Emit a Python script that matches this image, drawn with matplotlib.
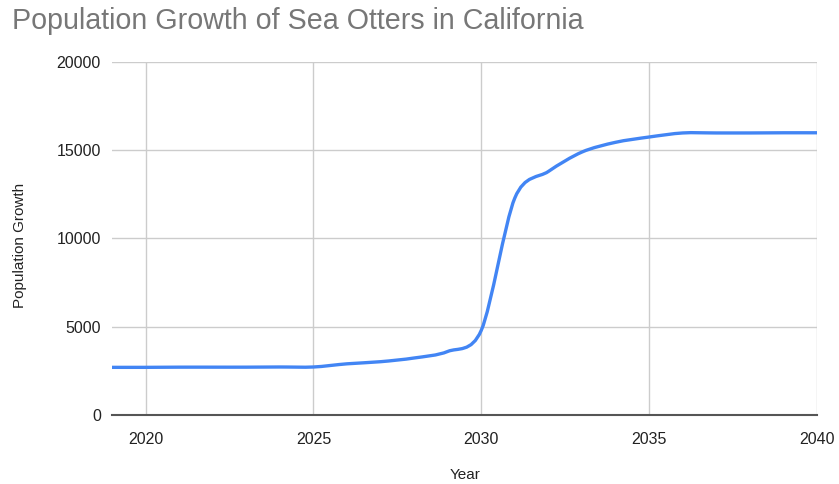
import matplotlib.pyplot as plt
import numpy as np
from matplotlib.path import Path
from matplotlib.patches import PathPatch

plt.rcParams["font.family"] = ["Liberation Sans", "DejaVu Sans"]

# yearly values
years = [2019, 2020, 2021, 2022, 2023, 2024, 2025, 2026, 2027, 2028, 2029,
         2030, 2031, 2032, 2033, 2034, 2035, 2036, 2037, 2038, 2039, 2040]
population = [2700, 2700, 2710, 2710, 2710, 2720, 2720, 2900, 3020, 3230, 3600,
              4800, 12300, 13800, 14900, 15450, 15750, 15980, 15980, 15980, 15990, 15990]

x_ticks = [2020, 2025, 2030, 2035, 2040]
y_ticks = [0, 5000, 10000, 15000, 20000]

line_color = "#4285f4"


def smooth_path(xs, ys, tension=0.45):
    # catmull-rom -> cubic bezier so matplotlib draws a smooth curve through the points
    xs = np.asarray(xs, float)
    ys = np.asarray(ys, float)
    verts = [(xs[0], ys[0])]
    codes = [Path.MOVETO]
    n = len(xs)
    for i in range(n - 1):
        p0 = (xs[max(i - 1, 0)], ys[max(i - 1, 0)])
        p1 = (xs[i], ys[i])
        p2 = (xs[i + 1], ys[i + 1])
        p3 = (xs[min(i + 2, n - 1)], ys[min(i + 2, n - 1)])
        c1 = (p1[0] + (p2[0] - p0[0]) * tension / 3, p1[1] + (p2[1] - p0[1]) * tension / 3)
        c2 = (p2[0] - (p3[0] - p1[0]) * tension / 3, p2[1] - (p3[1] - p1[1]) * tension / 3)
        verts += [c1, c2, p2]
        codes += [Path.CURVE4] * 3
    return Path(verts, codes)


fig = plt.figure(figsize=(8.39, 4.84), dpi=100)
ax = fig.add_axes([112 / 839, 1 - 415 / 484, (817 - 112) / 839, (415 - 62) / 484])

patch = PathPatch(smooth_path(years, population), facecolor="none",
                  edgecolor=line_color, lw=2.4, capstyle="round", joinstyle="round", zorder=3)
ax.add_patch(patch)

ax.set_xlim(2019, 2040)
ax.set_ylim(0, 20000)
ax.set_xticks(x_ticks)
ax.set_yticks(y_ticks)
ax.tick_params(length=0, labelsize=11.5, colors="#222222")
ax.tick_params(axis="x", pad=12)
ax.tick_params(axis="y", pad=8)
ax.grid(True, color="#cccccc", lw=1)
ax.set_axisbelow(True)
for s in ["top", "right", "left"]:
    ax.spines[s].set_visible(False)
ax.spines["bottom"].set_color("#555555")
ax.spines["bottom"].set_linewidth(1.5)
ax.spines["bottom"].set_zorder(4)

fig.text(12 / 839, 1 - 21 / 484, "Population Growth of Sea Otters in California",
         fontsize=20.6, color="#777777", va="center", ha="left")
fig.text(20 / 839, 1 - 245 / 484, "Population Growth", rotation=90,
         fontsize=11, color="#222222", va="center", ha="center")
fig.text(465 / 839, 1 - 475 / 484, "Year", fontsize=11, color="#222222",
         va="center", ha="center")

fig.savefig("out.png", dpi=100)
